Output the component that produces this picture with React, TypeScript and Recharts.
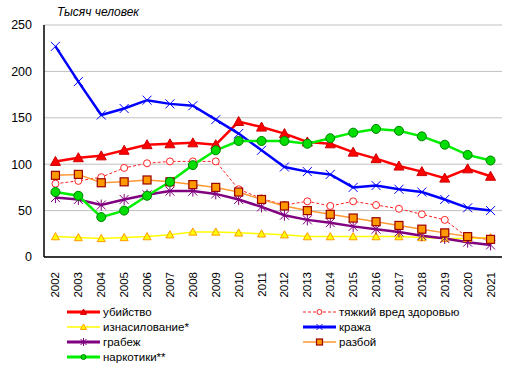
import { CartesianGrid, Line, LineChart, XAxis, YAxis } from 'recharts'

const years = [
  '2002', '2003', '2004', '2005', '2006', '2007', '2008', '2009', '2010', '2011',
  '2012', '2013', '2014', '2015', '2016', '2017', '2018', '2019', '2020', '2021',
]

const murder = [103, 107, 109, 115, 121, 122, 123, 121, 146, 140, 133, 124, 122, 113, 106, 98, 92, 85, 95, 87]
const injury = [79, 82, 86, 96, 101, 103, 103, 103, 73, 63, 56, 60, 55, 60, 56, 52, 46, 40, 21, 19]
const rape = [22, 21, 20, 21, 22, 24, 27, 27, 26, 25, 24, 22, 22, 22, 22, 22, 21, 20, 20, 21]
const theft = [227, 189, 153, 160, 169, 165, 163, 148, 133, 115, 97, 92, 89, 75, 77, 73, 70, 62, 53, 50]
const robbery = [64, 62, 56, 62, 67, 71, 71, 68, 62, 54, 45, 40, 37, 33, 30, 27, 23, 20, 16, 13]
const assault = [88, 89, 80, 81, 83, 81, 78, 75, 70, 62, 55, 50, 46, 42, 38, 34, 30, 26, 22, 19]
const drugs = [70, 66, 43, 50, 66, 81, 99, 115, 125, 125, 125, 122, 128, 134, 138, 136, 130, 121, 110, 104]

const yTicks = [0, 50, 100, 150, 200, 250]

const data = years.map((year, i) => ({
  year,
  murder: murder[i],
  injury: injury[i],
  rape: rape[i],
  theft: theft[i],
  robbery: robbery[i],
  assault: assault[i],
  drugs: drugs[i],
}))

type Shape = 'triangle' | 'circle' | 'cross' | 'star' | 'square'

const series: {
  key: string
  name: string
  color: string
  width: number
  dash?: string
  shape: Shape
  size: number
  fill: string
  stroke: string
}[] = [
  { key: 'murder', name: 'убийство', color: '#ff0000', width: 2.5, shape: 'triangle', size: 10, fill: '#ff0000', stroke: '#cc0000' },
  { key: 'injury', name: 'тяжкий вред здоровью', color: '#ff2222', width: 1, dash: '3 2', shape: 'circle', size: 7, fill: '#ffffff', stroke: '#ff2222' },
  { key: 'rape', name: 'изнасилование*', color: '#ffff00', width: 1.5, shape: 'triangle', size: 8, fill: '#ffff00', stroke: '#ff9900' },
  { key: 'theft', name: 'кража', color: '#0000ff', width: 2.5, shape: 'cross', size: 9, fill: 'none', stroke: '#0000ff' },
  { key: 'robbery', name: 'грабеж', color: '#800080', width: 2.5, shape: 'star', size: 9, fill: 'none', stroke: '#800080' },
  { key: 'assault', name: 'разбой', color: '#ff9933', width: 1.5, shape: 'square', size: 8, fill: '#ff9900', stroke: '#990000' },
  { key: 'drugs', name: 'наркотики**', color: '#00ee00', width: 2.5, shape: 'circle', size: 9, fill: '#00dd00', stroke: '#008000' },
]

function Marker({ cx, cy, shape, size, fill, stroke }: any) {
  if (cx == null || cy == null) return null
  const h = size / 2
  if (shape === 'triangle') {
    return (
      <path
        d={`M${cx},${cy - h} L${cx + h},${cy + h * 0.8} L${cx - h},${cy + h * 0.8} Z`}
        fill={fill}
        stroke={stroke}
        strokeWidth={1}
      />
    )
  }
  if (shape === 'circle') {
    return <circle cx={cx} cy={cy} r={h} fill={fill} stroke={stroke} strokeWidth={1} />
  }
  if (shape === 'square') {
    return <rect x={cx - h} y={cy - h} width={size} height={size} fill={fill} stroke={stroke} strokeWidth={1.2} />
  }
  if (shape === 'cross') {
    return (
      <path d={`M${cx - h},${cy - h} L${cx + h},${cy + h} M${cx + h},${cy - h} L${cx - h},${cy + h}`} stroke={stroke} strokeWidth={1} />
    )
  }
  return (
    <path
      d={`M${cx - h},${cy - h} L${cx + h},${cy + h} M${cx + h},${cy - h} L${cx - h},${cy + h} M${cx},${cy - h - 1} L${cx},${cy + h + 1}`}
      stroke={stroke}
      strokeWidth={1}
    />
  )
}

function YearTick({ x, y, payload }: any) {
  return (
    <text
      x={0}
      y={0}
      transform={`translate(${x + 4},${y + 7}) rotate(-90)`}
      textAnchor="end"
      fontSize={11.5}
      fill="#000"
    >
      {payload.value}
    </text>
  )
}

function LegendItem({ s }: { s: (typeof series)[number] }) {
  return (
    <div style={{ display: 'flex', alignItems: 'center', height: 15 }}>
      <svg width={36} height={12}>
        <line x1={1} y1={6} x2={34} y2={6} stroke={s.color} strokeWidth={s.width === 2.5 ? 3 : s.width} strokeDasharray={s.dash} />
        <Marker cx={17.5} cy={6} shape={s.shape} size={s.shape === 'circle' ? 5 : 6} fill={s.fill} stroke={s.stroke} />
      </svg>
      <span style={{ marginLeft: 1 }}>{s.name}</span>
    </div>
  )
}

export default function App() {
  const left = series.filter((_, i) => i % 2 === 0)
  const right = series.filter((_, i) => i % 2 === 1)
  return (
    <div
      style={{
        position: 'absolute',
        left: 0,
        top: 0,
        width: 516,
        height: 371,
        background: '#fff',
        fontFamily: 'Liberation Sans, Arial, sans-serif',
      }}
    >
      <div style={{ position: 'absolute', left: 57, top: 5, fontSize: 12, fontStyle: 'italic' }}>
        Тысяч человек
      </div>
      <LineChart
        width={516}
        height={371}
        data={data}
        margin={{ top: 25, right: 14, left: 0, bottom: 74 }}
      >
        <CartesianGrid vertical={false} stroke="#c0c0c0" />
        <XAxis
          dataKey="year"
          interval={0}
          height={40}
          tickLine={false}
          axisLine={{ stroke: '#000', strokeWidth: 1.5 }}
          padding={{ left: 11.45, right: 11.45 }}
          tick={<YearTick />}
        />
        <YAxis
          width={44}
          domain={[0, 250]}
          ticks={yTicks}
          tickLine={false}
          tickMargin={6}
          axisLine={{ stroke: '#000', strokeWidth: 1.5 }}
          tick={{ fill: '#000', fontSize: 12.5 }}
        />
        <YAxis
          yAxisId="border"
          orientation="right"
          width={0}
          tick={false}
          tickLine={false}
          axisLine={{ stroke: '#888' }}
        />
        {series.map((s) => (
          <Line
            key={s.key}
            dataKey={s.key}
            name={s.name}
            type="linear"
            stroke={s.color}
            strokeWidth={s.width}
            strokeDasharray={s.dash}
            isAnimationActive={false}
            dot={(p: any) => (
              <Marker key={`${s.key}-${p.index}`} cx={p.cx} cy={p.cy} shape={s.shape} size={s.size} fill={s.fill} stroke={s.stroke} />
            )}
            activeDot={false}
          />
        ))}
      </LineChart>
      <div style={{ position: 'absolute', left: 66, top: 304, fontSize: 11.5 }}>
        {left.map((s) => (
          <LegendItem key={s.key} s={s} />
        ))}
      </div>
      <div style={{ position: 'absolute', left: 302, top: 304, fontSize: 11.5 }}>
        {right.map((s) => (
          <LegendItem key={s.key} s={s} />
        ))}
      </div>
    </div>
  )
}
